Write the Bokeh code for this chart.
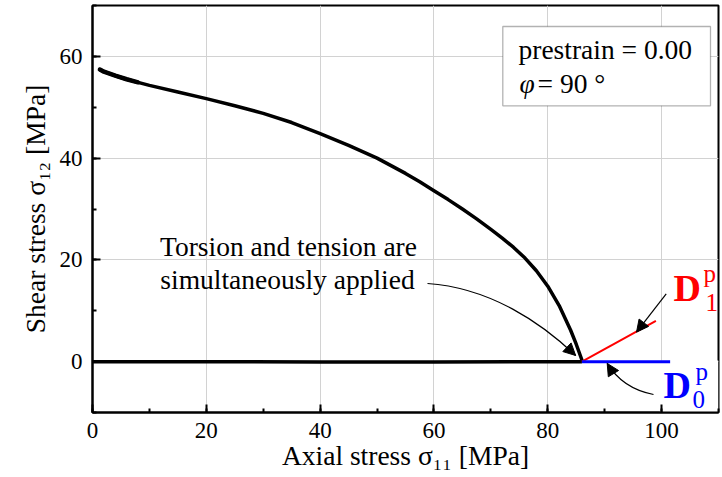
from bokeh.plotting import figure
from bokeh.models import (Range1d, SingleIntervalTicker, Label, BoxAnnotation,
                          Arrow, NormalHead)
from bokeh.embed import file_html
from bokeh.resources import INLINE

# ---------------- data ----------------
curve_x = [1.3, 2, 4, 6, 8, 10, 15, 20, 25, 30, 35, 40, 45, 50, 55, 57.5, 60, 62.5,
           65, 67.5, 70, 72, 74, 76, 78, 80, 82, 84, 85, 86]
curve_y = [57.4, 57.0, 56.2, 55.5, 54.9, 54.3, 53.0, 51.7, 50.3, 48.8, 47.0, 44.8,
           42.5, 40.0, 37.0, 35.35, 33.6, 31.85, 30.0, 28.07, 26.0, 24.28, 22.44,
           20.36, 17.86, 14.82, 11.02, 6.22, 3.42, 0.32]
base_x = [0, 20, 40, 60, 80, 86]
base_y = [0.0, 0.0, -0.05, -0.05, 0.0, 0.0]
d1_x = [86, 99]
d1_y = [0, 8]
d0_x = [86, 101.5]
d0_y = [0, 0]

x_label = "Axial stress σ₁₁ [MPa]"
y_label = "Shear stress σ₁₂ [MPa]"

FONT = "Liberation Serif"

# ---------------- layout ----------------
W, H = 722, 477
L, R, T, B = 92, 4, 5, 65
X0, X1, Y0, Y1 = 0, 110, -10, 70
FW, FH = W - L - R, H - T - B


def dx(px):
    return X0 + (px - L) / FW * (X1 - X0)


def dy(py):
    return Y0 + (H - B - py) / FH * (Y1 - Y0)


p = figure(width=W, height=H, x_range=Range1d(X0, X1), y_range=Range1d(Y0, Y1),
           output_backend="svg", toolbar_location=None,
           min_border_left=L, min_border_right=R, min_border_top=T, min_border_bottom=B)
p.background_fill_color = "white"
p.border_fill_color = "white"
p.outline_line_color = "black"
p.outline_line_width = 2
p.outline_line_alpha = 1

xt = SingleIntervalTicker(interval=20, num_minor_ticks=2)
yt = SingleIntervalTicker(interval=20, num_minor_ticks=2)
p.xaxis.ticker = xt
p.yaxis.ticker = yt
p.xgrid.ticker = xt
p.ygrid.ticker = yt
p.grid.grid_line_color = "#d2d2d2"
p.grid.grid_line_width = 1

for ax in (p.xaxis, p.yaxis):
    ax.axis_line_width = 2
    ax.axis_line_color = "black"
    ax.major_tick_in = 8
    ax.major_tick_out = 0
    ax.minor_tick_in = 4
    ax.minor_tick_out = 0
    ax.major_tick_line_width = 2
    ax.minor_tick_line_width = 2
    ax.major_tick_line_color = "black"
    ax.minor_tick_line_color = "black"
    ax.major_label_text_font = FONT
    ax.major_label_text_font_size = "23px"
    ax.major_label_text_color = "black"
    ax.axis_label_text_font = FONT
    ax.axis_label_text_font_size = "27.5px"
    ax.axis_label_text_font_style = "normal"
    ax.axis_label_text_color = "black"
p.xaxis.axis_label = x_label
p.yaxis.axis_label = y_label
p.xaxis.major_label_standoff = 10
p.yaxis.major_label_standoff = 10
p.xaxis.axis_label_standoff = -1
p.yaxis.axis_label_standoff = 6

# white cover behind D0 label (hides grid there)
p.add_layout(BoxAnnotation(left=99.7, right=110, top=0.2, bottom=-10,
                           fill_color="white", fill_alpha=1, line_color=None,
                           level="underlay"))

# ---------------- data lines ----------------
p.line(base_x, base_y, line_color="black", line_width=3.5)
p.line(curve_x, curve_y, line_color="black", line_width=3.5, line_join="round",
       line_cap="round")
p.line(curve_x[:5], curve_y[:5], line_color="black", line_width=4.5, line_cap="round")
p.line(d1_x, d1_y, line_color="red", line_width=2)
p.line(d0_x, d0_y, line_color="blue", line_width=3)

# ---------------- arrows ----------------
head = dict(size=12, fill_color="black", line_color="black", line_width=1)

# arrow from the text to the corner point (cubic curve)
a1 = dict(x0=dx(427), y0=dy(283), cx0=70.0, cy0=14.5, cx1=79.0, cy1=7.5,
          x1=84.9, y1=1.2)
p.bezier(x0=[a1["x0"]], y0=[a1["y0"]], x1=[a1["x1"]], y1=[a1["y1"]],
         cx0=[a1["cx0"]], cy0=[a1["cy0"]], cx1=[a1["cx1"]], cy1=[a1["cy1"]],
         line_color="black", line_width=1.2)
p.add_layout(Arrow(end=NormalHead(**head),
                   x_start=a1["x1"] - 0.15 * (a1["x1"] - a1["cx1"]),
                   y_start=a1["y1"] - 0.15 * (a1["y1"] - a1["cy1"]),
                   x_end=a1["x1"], y_end=a1["y1"], line_width=1.2, line_color="black"))

# straight arrow pointing at D1 line
p.add_layout(Arrow(end=NormalHead(**head), x_start=dx(665.7), y_start=dy(293.3),
                   x_end=dx(636), y_end=dy(331.7), line_width=1.2, line_color="black"))

# curved arrow pointing at D0 line (quadratic)
a3 = dict(x0=dx(653), y0=dy(394), cx=dx(622), cy=dy(388), x1=dx(606.7), y1=-0.35)
p.quadratic(x0=[a3["x0"]], y0=[a3["y0"]], x1=[a3["x1"]], y1=[a3["y1"]],
            cx=[a3["cx"]], cy=[a3["cy"]], line_color="black", line_width=1.2)
p.add_layout(Arrow(end=NormalHead(**head),
                   x_start=a3["x1"] - 0.15 * (a3["x1"] - a3["cx"]),
                   y_start=a3["y1"] - 0.15 * (a3["y1"] - a3["cy"]),
                   x_end=a3["x1"], y_end=a3["y1"], line_width=1.2, line_color="black"))


# ---------------- texts ----------------
def lab(text, px, base_py, size, style="normal", color="black", align="left", bg=None):
    # px, base_py: left x and baseline y of the text in picture pixels
    mid_py = base_py - 0.34 * size
    kw = dict(x=dx(px), y=dy(mid_py), text=text, text_font=FONT,
              text_font_size=f"{size}px", text_font_style=style, text_color=color,
              text_align=align, text_baseline="middle")
    if bg is not None:
        kw["background_fill_color"] = bg
    p.add_layout(Label(**kw))


# info box
p.add_layout(BoxAnnotation(left=dx(502.3), right=dx(710), top=dy(26), bottom=dy(105.3),
                           fill_color="white", fill_alpha=1, line_color="black",
                           line_width=1.3))
lab("prestrain = 0.00", 518, 58, 27.5)
lab("φ", 519, 92, 27.5, style="italic")
lab("= 90 °", 537, 92, 27.5)

# annotation text
lab("Torsion and tension are", 288, 255, 27.5, align="center")
lab("simultaneously applied", 287, 288.3, 27.5, align="center")

# D labels
lab("D", 673, 300, 38, style="bold", color="red")
lab("p", 703, 281.5, 25, color="red")
lab("1", 705, 310, 25, color="red")
lab("D", 663, 397, 38, style="bold", color="blue")
lab("p", 695, 379, 25, color="blue")
lab("0", 692, 407, 25, color="blue", bg="white")

open("out.html", "w").write(file_html(p, INLINE))
